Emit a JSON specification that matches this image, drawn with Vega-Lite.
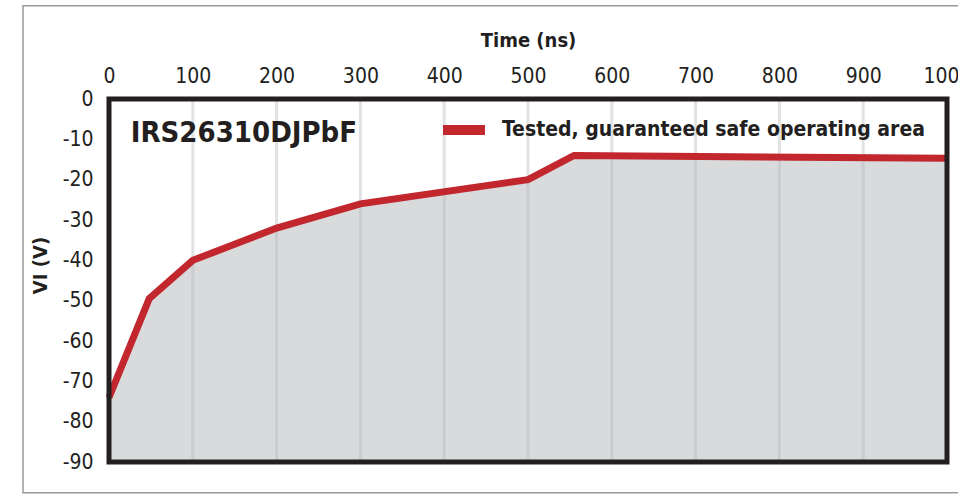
{
  "$schema": "https://vega.github.io/schema/vega-lite/v6.json",
  "width": 838,
  "height": 363,
  "autosize": "none",
  "padding": {"left": 109, "top": 99, "right": 11, "bottom": 32},
  "background": "white",
  "config": {
    "view": {"stroke": null},
    "font": "DejaVu Sans Condensed"
  },
  "datasets": {
    "soa": [
      {"t": 0, "v": -74},
      {"t": 48, "v": -49.5},
      {"t": 100, "v": -40},
      {"t": 200, "v": -32},
      {"t": 300, "v": -26},
      {"t": 500, "v": -20},
      {"t": 555, "v": -14},
      {"t": 1000, "v": -14.7}
    ],
    "grid": [
      {"t": 100}, {"t": 200}, {"t": 300}, {"t": 400}, {"t": 500},
      {"t": 600}, {"t": 700}, {"t": 800}, {"t": 900}
    ],
    "frame": [{"x0": 0, "x1": 1000, "y0": -90, "y1": 0}],
    "outer": [{"x0": -102.6, "x1": 1030, "y0": -97.6, "y1": 23.1}],
    "label": [{"name": "IRS26310DJPbF", "t": 26, "v": -8.4}]
  },
  "layer": [
    {
      "data": {"name": "soa"},
      "mark": {"type": "area", "color": "#d9dadc"},
      "encoding": {
        "x": {
          "field": "t", "type": "quantitative",
          "scale": {"domain": [0, 1000], "nice": false},
          "axis": {
            "orient": "top", "title": "Time (ns)", "values": [0,100,200,300,400,500,600,700,800,900,1000],
            "labelExpr": "'' + datum.value",
            "grid": false, "ticks": false, "domain": false,
            "labelFont": "DejaVu Sans Condensed", "labelFontSize": 21, "labelColor": "#231f20", "labelPadding": 13,
            "labelOverlap": false, "labelFlush": false,
            "titleFont": "DejaVu Sans Condensed", "titleFontSize": 20, "titleFontWeight": "bold", "titleColor": "#231f20", "titlePadding": 15
          }
        },
        "y": {
          "field": "v", "type": "quantitative",
          "scale": {"domain": [-90, 0], "nice": false},
          "axis": {
            "title": "VI (V)", "values": [0,-10,-20,-30,-40,-50,-60,-70,-80,-90],
            "labelExpr": "'' + datum.value",
            "grid": false, "ticks": false, "domain": false,
            "labelFont": "DejaVu Sans Condensed", "labelFontSize": 21, "labelColor": "#231f20", "labelPadding": 16,
            "labelOverlap": false, "labelFlush": false,
            "titleFont": "DejaVu Sans Condensed", "titleFontSize": 20, "titleFontWeight": "bold", "titleColor": "#231f20", "titlePadding": 12,
            "titleY": 166
          }
        },
        "y2": {"datum": -90}
      }
    },
    {
      "data": {"name": "grid"},
      "mark": {"type": "rule", "color": "#b5b6b9", "opacity": 0.4, "strokeWidth": 3},
      "encoding": {
        "x": {"field": "t", "type": "quantitative"}
      }
    },
    {
      "data": {"name": "soa"},
      "mark": {"type": "line", "strokeWidth": 7, "clip": false, "strokeJoin": "miter"},
      "encoding": {
        "x": {"field": "t", "type": "quantitative"},
        "y": {"field": "v", "type": "quantitative"},
        "color": {
          "datum": "Tested, guaranteed safe operating area",
          "scale": {"range": ["#c1272d"]},
          "legend": {
            "title": null, "orient": "none", "legendX": 329, "legendY": 5,
            "symbolType": "stroke", "symbolSize": 1760, "symbolStrokeWidth": 10,
            "labelFont": "DejaVu Sans Condensed", "labelFontSize": 21, "labelFontWeight": "bold", "labelColor": "#231f20",
            "labelLimit": 600, "labelOffset": 12, "padding": 0
          }
        }
      }
    },
    {
      "data": {"name": "frame"},
      "mark": {"type": "rect", "fill": null, "fillOpacity": 0, "stroke": "#231f20", "strokeWidth": 5, "clip": false},
      "encoding": {
        "x": {"field": "x0", "type": "quantitative"},
        "x2": {"field": "x1"},
        "y": {"field": "y0", "type": "quantitative"},
        "y2": {"field": "y1"}
      }
    },
    {
      "data": {"name": "outer"},
      "mark": {"type": "rect", "fill": null, "fillOpacity": 0, "stroke": "#9a9a9a", "strokeWidth": 1.5, "clip": false},
      "encoding": {
        "x": {"field": "x0", "type": "quantitative"},
        "x2": {"field": "x1"},
        "y": {"field": "y0", "type": "quantitative"},
        "y2": {"field": "y1"}
      }
    },
    {
      "data": {"name": "label"},
      "mark": {"type": "text", "align": "left", "baseline": "middle", "font": "DejaVu Sans Condensed", "fontSize": 29, "fontWeight": "bold", "color": "#231f20"},
      "encoding": {
        "x": {"field": "t", "type": "quantitative"},
        "y": {"field": "v", "type": "quantitative"},
        "text": {"field": "name"}
      }
    }
  ]
}
